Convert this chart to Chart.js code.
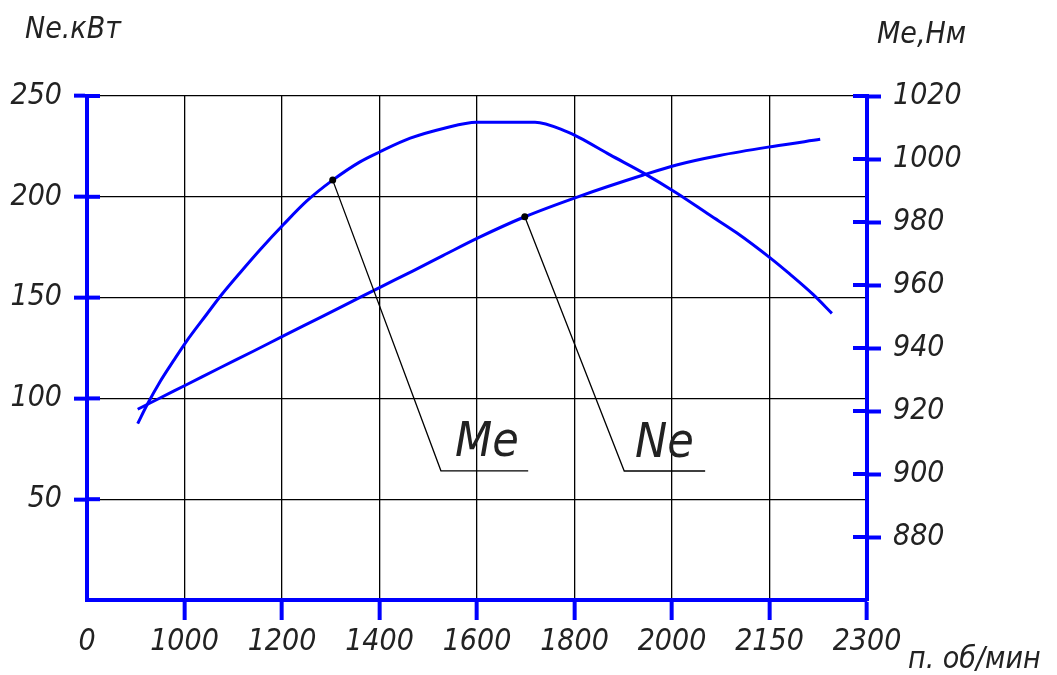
<!DOCTYPE html>
<html>
<head>
<meta charset="utf-8">
<script src="https://cdn.jsdelivr.net/npm/chart.js@4/dist/chart.umd.min.js"></script>
<style>
  html, body { margin: 0; padding: 0; background: #fff; }
  #wrap { width: 1057px; height: 675px; }
</style>
</head>
<body>
<div id="wrap"><canvas id="chart"></canvas></div>
<script>
// ---- data ----
const rpmTicks = [0, 1000, 1200, 1400, 1600, 1800, 2000, 2150, 2300];
const neTicks = [50, 100, 150, 200, 250];
const meTicks = [880, 900, 920, 940, 960, 980, 1000, 1020];

// крутящий момент Me, Нм
const meRpm = [520, 615, 749, 886, 1003, 1046, 1076, 1114, 1155, 1203, 1251, 1304, 1360, 1401, 1463, 1531, 1599,
  1719, 1784, 1811, 1873, 1941, 2007, 2058, 2100, 2151, 2181, 2217, 2246];
const meValues = [916, 921.9, 929.3, 935.9, 941.9, 950.8, 956.9, 963.9, 971.2, 979.2, 986.7, 993.3, 999.1, 1002.3, 1006.6, 1009.7, 1011.7,
  1011.7, 1008.7, 1006.7, 1001.3, 995.6, 989.2, 982.2, 976.5, 968.6, 963.5, 957, 951];

// мощность Ne, кВт
const neRpm = [520, 749, 1005, 1073, 1141, 1203, 1278, 1346, 1401, 1469, 1530, 1602, 1698, 1807, 1941, 2007, 2073, 2155, 2228];
const neValues = [94.6, 100.2, 106.9, 115.2, 123.4, 131, 140.1, 148.4, 155.1, 163.3, 170.8, 179.6, 190.1, 200, 210.8, 215.8, 220.5, 225, 228.5];

// выноски
const meLeaderRpm = [1304, 1526, 1705];
const meLeaderNm = [993.3, 901, 901];
const neLeaderRpm = [1698, 1902, 2051];
const neLeaderKw = [190.1, 64, 64];
const meLabelAt = { rpm: 1555, nm: 902, text: "Me" };
const neLabelAt = { rpm: 1924, kw: 65, text: "Ne" };

const BLUE = "#0000ff";
const FONT = "'Liberation Sans Narrow', 'DejaVu Sans Condensed', sans-serif";

// неравномерная шкала оборотов -> позиция деления
function rpmToPos(r) {
  for (let i = 0; i < rpmTicks.length - 1; i++) {
    if (r <= rpmTicks[i + 1]) {
      return i + (r - rpmTicks[i]) / (rpmTicks[i + 1] - rpmTicks[i]);
    }
  }
  return rpmTicks.length - 1;
}

function toPoints(xs, ys) {
  return xs.map((r, i) => ({ x: rpmToPos(r), y: ys[i] }));
}

/* ===============================
   ПЛАГИН: засечки и подписи
================================ */
const drawExtras = {
  id: "drawExtras",
  afterDraw(chart) {
    const { ctx, chartArea, scales } = chart;
    ctx.save();

    // внутренние половины засечек на вертикальных осях
    ctx.strokeStyle = BLUE;
    ctx.lineWidth = 4;
    scales.y.ticks.forEach(t => {
      const py = scales.y.getPixelForValue(t.value);
      ctx.beginPath();
      ctx.moveTo(chartArea.left, py);
      ctx.lineTo(chartArea.left + 13, py);
      ctx.stroke();
    });
    scales.yR.ticks.forEach(t => {
      const py = scales.yR.getPixelForValue(t.value);
      ctx.beginPath();
      ctx.moveTo(chartArea.right - 14, py);
      ctx.lineTo(chartArea.right, py);
      ctx.stroke();
    });

    // названия осей
    ctx.fillStyle = "#222";
    ctx.font = "italic 30px " + FONT;
    ctx.textBaseline = "alphabetic";
    ctx.textAlign = "left";
    ctx.fillText("Ne.кВт", 25, 38);
    ctx.fillText("Me,Нм", 877, 43);
    ctx.fillText("п. об/мин", 908, 668);

    // подписи кривых
    ctx.font = "italic 48px " + FONT;
    ctx.textBaseline = "bottom";
    ctx.fillText(meLabelAt.text,
      scales.x.getPixelForValue(rpmToPos(meLabelAt.rpm)),
      scales.yR.getPixelForValue(meLabelAt.nm));
    ctx.fillText(neLabelAt.text,
      scales.x.getPixelForValue(rpmToPos(neLabelAt.rpm)),
      scales.y.getPixelForValue(neLabelAt.kw));

    ctx.restore();
  }
};

const tickFont = { family: FONT, size: 30, style: "italic" };

function leader(label, xs, ys, axis) {
  return {
    label,
    data: toPoints(xs, ys),
    yAxisID: axis,
    order: 0,
    borderColor: "#000",
    borderWidth: 1.3,
    tension: 0,
    pointRadius: [3.5, 0, 0],
    pointBackgroundColor: "#000",
    pointBorderWidth: 0
  };
}

function curve(label, xs, ys, axis) {
  return {
    label,
    data: toPoints(xs, ys),
    yAxisID: axis,
    order: 1,
    borderColor: BLUE,
    borderWidth: 3,
    pointRadius: 0,
    cubicInterpolationMode: "monotone"
  };
}

new Chart(document.getElementById("chart"), {
  type: "line",
  data: {
    datasets: [
      curve("Me", meRpm, meValues, "yR"),
      curve("Ne", neRpm, neValues, "y"),
      leader("Me выноска", meLeaderRpm, meLeaderNm, "yR"),
      leader("Ne выноска", neLeaderRpm, neLeaderKw, "y")
    ]
  },
  options: {
    responsive: true,
    maintainAspectRatio: false,
    animation: false,
    layout: { padding: { top: 96, left: 0, right: 0, bottom: 0 } },
    plugins: {
      legend: { display: false },
      tooltip: { enabled: false }
    },
    scales: {
      x: {
        type: "linear",
        min: 0,
        max: rpmTicks.length - 1,
        afterBuildTicks: s => { s.ticks = rpmTicks.map((r, i) => ({ value: i })); },
        afterFit: s => { s.height = 75; },
        ticks: {
          font: tickFont,
          color: "#222",
          padding: 4,
          maxRotation: 0,
          autoSkip: false,
          callback: v => String(rpmTicks[v])
        },
        grid: {
          color: c => (c.tick && (c.tick.value === 0 || c.tick.value === rpmTicks.length - 1)) ? "rgba(0,0,0,0)" : "#000",
          lineWidth: 1.3,
          tickLength: 20,
          tickWidth: 4,
          tickColor: c => (c.tick && c.tick.value === 0) ? "rgba(0,0,0,0)" : BLUE
        },
        border: { display: true, color: BLUE, width: 4 }
      },
      y: {
        type: "linear",
        position: "left",
        min: 0,
        max: 250,
        afterBuildTicks: s => { s.ticks = neTicks.map(v => ({ value: v })); },
        afterFit: s => { s.width = 87; },
        ticks: { font: tickFont, color: "#222", padding: 12, callback: v => String(v) },
        grid: {
          color: "#000",
          lineWidth: 1.3,
          tickLength: 13,
          tickWidth: 4,
          tickColor: BLUE
        },
        border: { display: true, color: BLUE, width: 4 }
      },
      yR: {
        type: "linear",
        position: "right",
        min: 860,
        max: 1020,
        afterBuildTicks: s => { s.ticks = meTicks.map(v => ({ value: v })); },
        afterFit: s => { s.width = 190; },
        ticks: { font: tickFont, color: "#222", padding: 12, callback: v => String(v) },
        grid: {
          drawOnChartArea: false,
          tickLength: 14,
          tickWidth: 4,
          tickColor: BLUE
        },
        border: { display: true, color: BLUE, width: 4 }
      }
    }
  },
  plugins: [drawExtras]
});
</script>
</body>
</html>
